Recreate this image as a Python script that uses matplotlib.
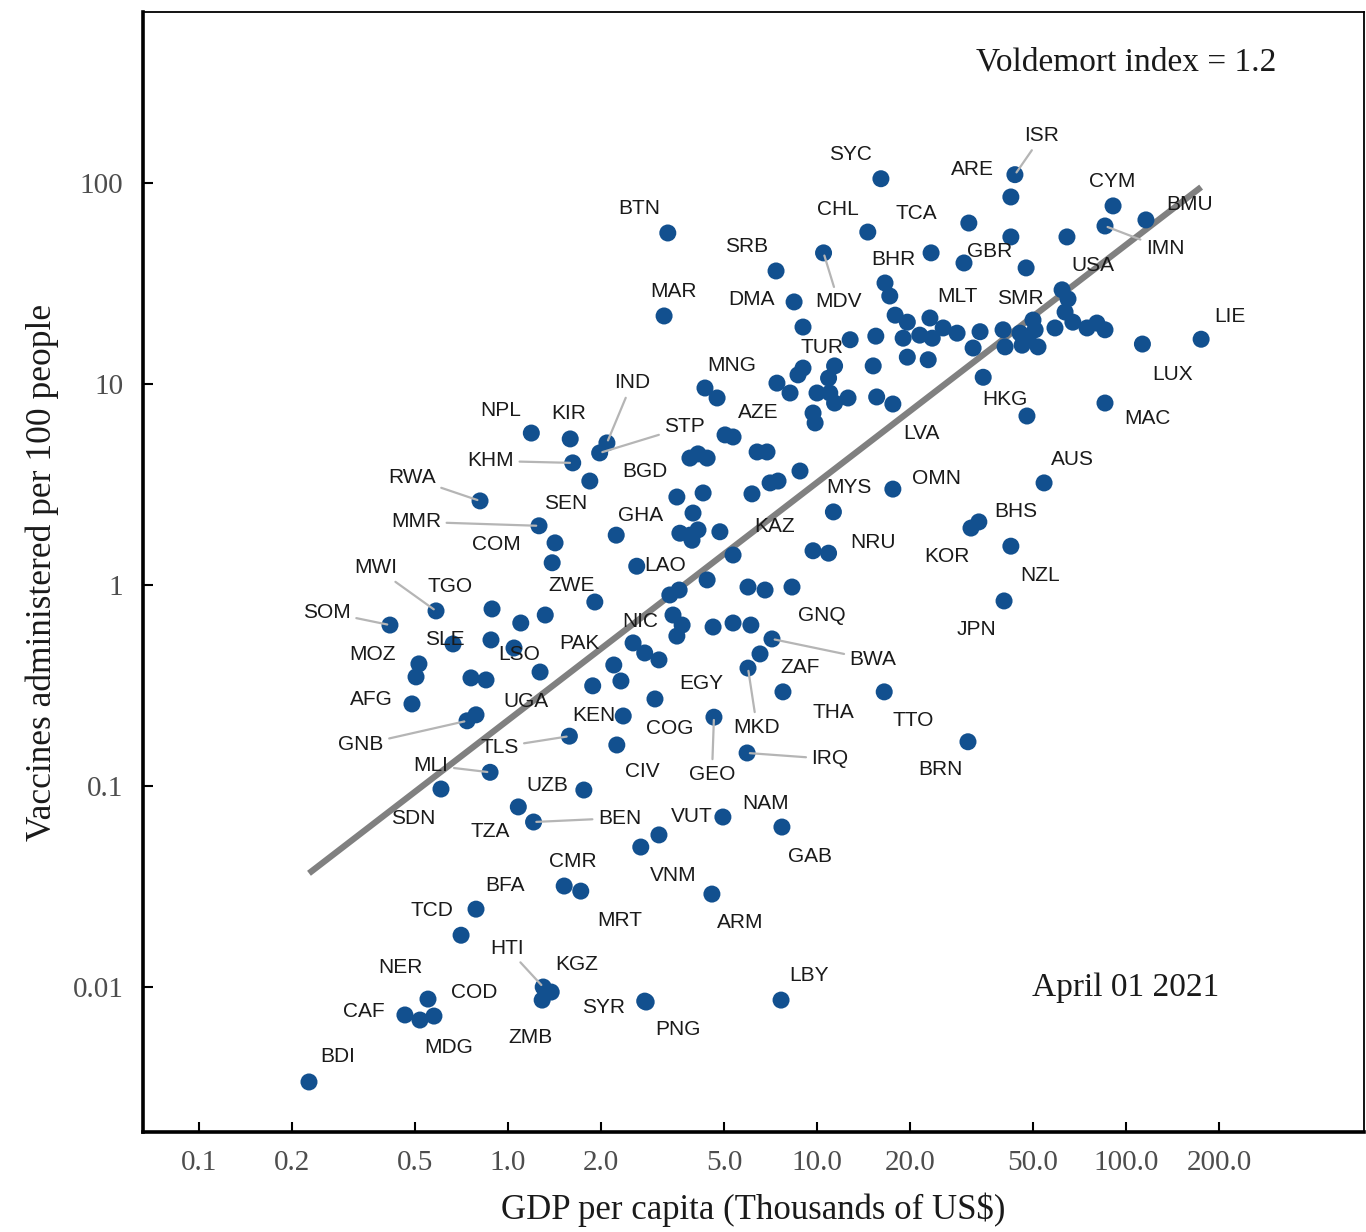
import numpy as np
import matplotlib
matplotlib.use("Agg")
import matplotlib.pyplot as plt

# Data (GDP per capita in thousands US$, vaccines per 100 people)
codes = ['ISR', 'ARE', 'SYC', 'CYM', 'BMU', 'IMN', 'USA', 'CHL', 'TCA', 'BTN',
         'MDV', 'SRB', 'GBR', '', '', '', 'BHR', '', '', '',
         'DMA', 'MAR', '', '', '', '', 'MLT', '', '', '',
         '', '', 'TUR', '', '', '', '', '', '', '',
         '', '', 'SMR', '', '', '', '', '', '', '',
         '', '', 'LUX', 'LIE', '', 'HKG', 'MAC', '', '', '',
         '', '', '', '', '', '', '', '', 'LVA', '',
         '', 'MNG', '', 'AZE', '', '', '', '', '', '',
         '', '', '', '', '', '', 'NPL', 'KIR', 'IND', 'STP',
         'KHM', 'BGD', 'RWA', 'MMR', 'SEN', 'COM', 'GHA', '', '', '',
         '', '', '', '', 'MYS', 'OMN', 'AUS', 'BHS', 'KOR', 'KAZ',
         'NRU', 'NZL', 'LAO', '', '', '', '', '', 'GNQ', 'ZWE',
         '', '', 'TGO', 'MWI', 'SOM', 'JPN', 'NIC', '', '', '',
         '', '', 'BWA', 'PAK', '', 'EGY', '', '', 'ZAF', 'MKD',
         '', 'COG', '', 'SLE', '', 'LSO', 'MOZ', '', '', 'UGA',
         'AFG', 'GNB', '', 'THA', 'TTO', 'KEN', 'GEO', 'TLS', 'CIV', 'IRQ',
         'BRN', 'MLI', 'SDN', 'UZB', 'TZA', 'BEN', 'NAM', 'GAB', 'VUT', 'VNM',
         'CMR', 'MRT', 'ARM', 'BFA', 'TCD', 'HTI', 'KGZ', 'ZMB', 'SYR', 'PNG',
         'LBY', 'NER', 'COD', 'CAF', 'MDG', 'BDI']

gdp = [43.7, 42.4, 16.1, 90.8, 116, 85.5, 64.4, 14.6, 23.4, 3.29,
       10.5, 7.37, 29.9, 31.0, 42.4, 47.5, 16.6, 17.2, 62.1, 64.9,
       8.43, 3.20, 9.01, 17.9, 19.6, 23.2, 25.6, 21.5, 23.6, 28.4,
       19.0, 15.5, 12.8, 19.6, 22.9, 15.2, 33.7, 32.0, 40.0, 40.6,
       45.4, 46.1, 50.0, 50.8, 51.9, 48.2, 58.9, 63.5, 67.3, 74.8,
       80.5, 85.5, 113, 175, 34.5, 47.8, 85.5, 11.4, 10.9, 9.01,
       8.68, 7.42, 8.18, 10.0, 11.0, 11.4, 12.6, 15.6, 17.6, 9.71,
       9.86, 4.34, 4.75, 5.04, 5.35, 3.88, 4.12, 4.41, 6.40, 6.89,
       8.81, 7.05, 7.48, 6.16, 3.52, 4.28, 1.19, 1.59, 2.09, 1.98,
       1.62, 1.84, 0.812, 1.26, 1.42, 1.39, 2.24, 3.97, 3.60, 3.88,
       4.12, 3.94, 4.85, 5.35, 11.3, 17.6, 54.3, 33.4, 31.5, 9.71,
       10.9, 42.4, 2.61, 4.41, 3.34, 3.58, 5.98, 6.79, 8.30, 1.91,
       1.32, 1.10, 0.888, 0.585, 0.415, 40.3, 3.42, 3.66, 3.52, 4.61,
       5.35, 6.11, 7.15, 2.54, 2.77, 3.08, 2.20, 2.32, 6.54, 5.98,
       1.88, 2.99, 1.27, 0.664, 0.881, 1.046, 0.515, 0.504, 0.759, 0.849,
       0.489, 0.737, 0.788, 7.76, 16.5, 2.36, 4.64, 1.58, 2.25, 5.94,
       30.8, 0.875, 0.607, 1.76, 1.08, 1.21, 4.96, 7.70, 3.08, 2.69,
       1.52, 1.72, 4.57, 0.788, 0.705, 1.30, 1.38, 1.29, 2.77, 2.80,
       7.65, 0.551, 0.576, 0.464, 0.519, 0.227]

vacc = [110, 85.2, 105, 76.9, 65.5, 61.1, 53.9, 57.0, 44.9, 56.4,
        44.9, 36.5, 40.0, 63.2, 53.9, 37.8, 31.8, 27.4, 29.4, 26.5,
        25.6, 21.8, 19.2, 22.0, 20.3, 21.3, 19.0, 17.5, 16.9, 17.9,
        16.9, 17.3, 16.6, 13.6, 13.2, 12.3, 18.2, 15.1, 18.6, 15.3,
        17.9, 15.6, 20.8, 18.6, 15.3, 16.6, 19.0, 22.8, 20.3, 19.0,
        20.1, 18.6, 15.8, 16.7, 10.8, 6.93, 8.04, 12.3, 10.7, 12.0,
        11.1, 10.1, 9.02, 9.02, 9.02, 8.04, 8.52, 8.62, 7.95, 7.17,
        6.40, 9.55, 8.52, 5.58, 5.45, 4.28, 4.49, 4.28, 4.59, 4.59,
        3.69, 3.22, 3.29, 2.84, 2.74, 2.87, 5.70, 5.33, 5.09, 4.54,
        4.05, 3.29, 2.62, 1.97, 1.62, 1.29, 1.77, 2.28, 1.81, 1.77,
        1.88, 1.67, 1.84, 1.41, 2.31, 3.00, 3.22, 2.06, 1.92, 1.48,
        1.44, 1.56, 1.24, 1.06, 0.892, 0.944, 0.977, 0.944, 0.977, 0.823,
        0.709, 0.647, 0.760, 0.743, 0.632, 0.833, 0.709, 0.632, 0.557, 0.618,
        0.647, 0.632, 0.539, 0.515, 0.459, 0.424, 0.400, 0.333, 0.454, 0.386,
        0.315, 0.271, 0.369, 0.509, 0.533, 0.486, 0.405, 0.349, 0.345, 0.337,
        0.256, 0.211, 0.226, 0.294, 0.294, 0.223, 0.220, 0.177, 0.160, 0.146,
        0.166, 0.117, 0.0966, 0.0955, 0.0787, 0.0662, 0.0701, 0.0625, 0.0571, 0.0497,
        0.0318, 0.0300, 0.0290, 0.0244, 0.0181, 0.0100, 0.00944, 0.00861, 0.00851, 0.00842,
        0.00861, 0.00871, 0.00717, 0.00726, 0.00685, 0.00337]

x_ticks = [0.1, 0.2, 0.5, 1.0, 2.0, 5.0, 10.0, 20.0, 50.0, 100.0, 200.0]
x_ticklabels = ['0.1', '0.2', '0.5', '1.0', '2.0', '5.0', '10.0', '20.0', '50.0', '100.0', '200.0']
y_ticks = [0.01, 0.1, 1, 10, 100]
y_ticklabels = ['0.01', '0.1', '1', '10', '100']

# label placement (offset in pixels from the point: dx right, dy up), True = leader line
label_pos = {
    'ISR': (27, 41, True), 'ARE': (-38, 29, False), 'SYC': (-30, 26, False),
    'CYM': (-1, 26, False), 'BMU': (44, 17, False), 'IMN': (60, -21, True),
    'USA': (26, -27, False), 'CHL': (-30, 25, False), 'TCA': (-15, 41, False),
    'BTN': (-29, 26, False), 'SRB': (-29, 26, False), 'MDV': (15, -47, True),
    'BHR': (8, 26, False), 'GBR': (26, 13, False), 'MAR': (9, 26, False),
    'DMA': (-43, 4, False), 'MLT': (14, 33, False), 'SMR': (-13, 24, False),
    'TUR': (-28, -6, False), 'LIE': (29, 25, False), 'LUX': (30, -28, False),
    'HKG': (-22, 19, False), 'MAC': (42, -13, False), 'MNG': (27, 25, False),
    'LVA': (29, -27, False), 'AZE': (33, 24, False), 'IND': (25, 62, True),
    'STP': (85, 28, True), 'KIR': (-2, 27, False), 'NPL': (-31, 25, False),
    'KHM': (-82, 4, True), 'BGD': (55, 12, False), 'RWA': (-68, 25, True),
    'SEN': (11, 41, False), 'MMR': (-123, 6, True), 'GHA': (24, 22, False),
    'MYS': (16, 26, False), 'OMN': (44, 13, False), 'AUS': (28, 25, False),
    'BHS': (37, 12, False), 'KOR': (-24, -26, False), 'KAZ': (-38, 26, False),
    'NRU': (44, 13, False), 'NZL': (29, -27, False), 'COM': (-56, 20, False),
    'LAO': (28, 3, False), 'ZWE': (-23, 19, False), 'MWI': (-60, 45, True),
    'TGO': (-42, 24, False), 'SOM': (-63, 15, True), 'GNQ': (30, -26, False),
    'JPN': (-28, -27, False), 'NIC': (-33, -4, False), 'SLE': (-8, 6, False),
    'PAK': (-54, 1, False), 'LSO': (5, -5, False), 'MOZ': (-46, 11, False),
    'BWA': (101, -19, True), 'ZAF': (40, -12, False), 'EGY': (42, -22, False),
    'MKD': (9, -57, True), 'THA': (50, -19, False), 'TTO': (29, -27, False),
    'AFG': (-41, 6, False), 'UGA': (40, -20, False), 'GNB': (-106, -22, True),
    'KEN': (-29, 3, False), 'COG': (15, -28, False), 'GEO': (-2, -55, True),
    'TLS': (-70, -9, True), 'CIV': (25, -25, False), 'IRQ': (83, -4, True),
    'BRN': (-28, -26, False), 'MLI': (-59, 9, True), 'UZB': (-37, 7, False),
    'SDN': (-28, -27, False), 'TZA': (-28, -23, False), 'BEN': (86, 6, True),
    'VUT': (33, 20, False), 'NAM': (43, 16, False), 'GAB': (28, -27, False),
    'VNM': (32, -26, False), 'CMR': (9, 27, False), 'MRT': (39, -27, False),
    'ARM': (28, -26, False), 'BFA': (29, 26, False), 'TCD': (-29, 27, False),
    'HTI': (-36, 41, True), 'KGZ': (25, 30, False), 'ZMB': (-12, -35, False),
    'SYR': (-41, -4, False), 'PNG': (32, -25, False), 'LBY': (28, 27, False),
    'NER': (-28, 34, False), 'COD': (40, 26, False), 'CAF': (-41, 5, False),
    'MDG': (29, -25, False), 'BDI': (29, 27, False),
}

point_color = '#12508f'
line_color = '#808080'

plt.rcParams['font.family'] = ['Liberation Serif', 'DejaVu Serif']

fig = plt.figure(figsize=(13.66, 12.32), dpi=100)
ax = fig.add_axes([143 / 1366, 100 / 1232, 1221 / 1366, 1120 / 1232])
ax.set_xscale('log')
ax.set_yscale('log')
ax.set_xlim(0.0659, 589)
ax.set_ylim(0.0019, 709)

# log-log fit line across the data range
lx = np.log10(gdp)
ly = np.log10(vacc)
slope, intercept = np.polyfit(lx, ly, 1)
xs = np.array([min(gdp), max(gdp)])
ax.plot(xs, 10 ** (intercept + slope * np.log10(xs)), color=line_color,
        linewidth=4.5, solid_capstyle='butt', zorder=1)

ax.scatter(gdp, vacc, s=150, color=point_color, edgecolors='none', zorder=2)

for code, gx, vy in zip(codes, gdp, vacc):
    if not code:
        continue
    dx, dy, leader = label_pos[code]
    arrow = None
    if leader:
        arrow = dict(arrowstyle='-', color='#b5b5b5', lw=1.6, shrinkA=2, shrinkB=2)
    ax.annotate(code, xy=(gx, vy), xytext=(dx, dy), textcoords='offset pixels',
                ha='center', va='center_baseline', fontsize=15,
                family=['Liberation Sans', 'DejaVu Sans'], color='#1a1a1a',
                arrowprops=arrow, zorder=3)

ax.text(100, 400, 'Voldemort index = 1.2', ha='center', va='center',
        fontsize=24, color='#1a1a1a')
ax.text(100, 0.0099, 'April 01 2021', ha='center', va='center',
        fontsize=24, color='#1a1a1a')

ax.set_xticks(x_ticks)
ax.set_xticklabels(x_ticklabels)
ax.set_yticks(y_ticks)
ax.set_yticklabels(y_ticklabels)
ax.minorticks_off()
ax.tick_params(direction='in', length=7, width=1.5, colors='black',
               labelcolor='#4d4d4d', labelsize=21)
ax.tick_params(axis='x', pad=13)
ax.tick_params(axis='y', pad=14)

for side in ['left', 'bottom']:
    ax.spines[side].set_linewidth(2.6)
for side in ['top', 'right']:
    ax.spines[side].set_linewidth(1.3)

ax.set_xlabel('GDP per capita (Thousands of US$)', fontsize=25, color='#1a1a1a', labelpad=12)
ax.set_ylabel('Vaccines administered per 100 people', fontsize=25.5, color='#1a1a1a', labelpad=10)

fig.savefig('out.png', dpi=100)
